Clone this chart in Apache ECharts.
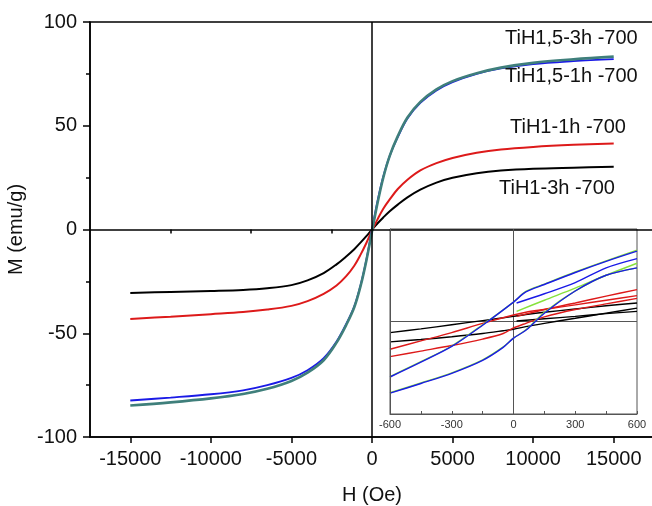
<!DOCTYPE html>
<html><head><meta charset="utf-8">
<script src="https://cdn.jsdelivr.net/npm/echarts@6/dist/echarts.min.js"></script>
<style>html,body{margin:0;padding:0;background:#fff}#c{width:652px;height:506px}</style>
</head><body><div id="c"></div>
<script>
// ---- main chart data (H in Oe, M in emu/g) ----
const H = [-15000,-12500,-10000,-8000,-6500,-5000,-4000,-3000,-2200,-1600,-1100,-700,-350,0,350,700,1100,1600,2200,3000,4000,5000,6500,8000,10000,12500,15000];
const mTiH15_3h = [-84.8,-83.3,-81.4,-79.3,-76.8,-73,-69,-63,-54.5,-46,-37.5,-27,-15,-1,13,25,35.5,45,54,61.5,67.5,71.5,75.3,78,80.3,82,83.3];
const mTiH15_1h = [-82.4,-81,-79.4,-77.5,-75,-71.5,-67.8,-62,-54,-45.5,-37,-26.5,-14.5,0,14,25.5,35.5,44.5,53.5,61,67,71,75,77.6,79.7,81.1,82.1];
const mTiH1_1h  = [-43.1,-42,-40.8,-39.8,-38.6,-36.8,-34.5,-31,-27,-22.5,-17.5,-12,-6.5,-0.5,5,10,14.5,19.5,24,28.5,32,34.5,37,38.6,39.8,40.8,41.5];
const mTiH1_3h  = [-30.6,-30.1,-29.6,-29.1,-28.3,-26.8,-24.5,-21,-16.8,-13,-9.5,-6.2,-3.2,0,3,5.8,8.8,12,15.5,19.2,22.6,24.9,27.1,28.4,29.3,29.8,30.2];
const xTicks = [-15000,-10000,-5000,0,5000,10000,15000];
const xMinorTicks = [-12500,-7500,-2500,2500,7500,12500];
const labels = ['TiH1,5-3h -700','TiH1,5-1h -700','TiH1-1h -700','TiH1-3h -700'];

// ---- inset data (H in Oe, magnetization in arbitrary inset units) ----
const insetDownH = [600,450,300,150,60,0,-150,-300,-450,-600];
const insetUpH = [-600,-450,-300,-150,-50,0,60,150,300,450,600];
const insetVirginH = [15,150,300,450,600];
const greenDown = [7.7,6.55,5.35,4.05,3.25,2.1,-0.35,-2.65,-4.35,-5.95];
const greenUp = [-7.7,-6.65,-5.55,-4.15,-2.75,-1.8,-0.9,1.0,3.3,5.0,5.8];
const greenVirgin = [1.1,2.3,3.6,5.0,6.3];
const blueDown = [7.6,6.5,5.3,4.0,3.2,2.1,-0.4,-2.7,-4.4,-6.0];
const blueUp = [-7.75,-6.7,-5.6,-4.2,-2.8,-1.8,-0.95,0.9,3.3,5.0,5.8];
const blueVirgin = [2.0,3.0,4.2,5.8,6.8];
const redDown = [2.8,2.3,1.8,1.3,1.0,0.7,-0.2,-1.2,-2.1,-3.0];
const redUp = [-3.8,-3.2,-2.6,-1.9,-1.3,-0.7,-0.2,0.5,1.3,1.9,2.5];
const redVirgin = [0.55,1.3,2.0,2.75,3.45];
const blackDown = [2.0,1.7,1.35,1.0,0.75,0.55,0.1,-0.35,-0.8,-1.2];
const blackUp = [-2.2,-1.95,-1.65,-1.3,-1.0,-0.84,-0.55,-0.2,0.35,0.9,1.45];
const blackVirgin = [0.05,0.3,0.55,0.85,1.1];

const C = {black:'#000000', red:'#dd1a1a', blue:'#1a1ae6', teal:'#3f7f7b', lime:'#86e23c'};
const FONT = '"Liberation Sans", Arial, sans-serif';
const pair = (xs, ys) => xs.map((x,i)=>[x, ys[i]]);

function mainLine(name, ys, color, w, z){
  return {name, type:'line', xAxisIndex:0, yAxisIndex:0, data:pair(H, ys), smooth:0.35,
    symbol:'none', lineStyle:{color, width:w}, z:z};
}
function insetLine(xs, ys, color){
  return {type:'line', xAxisIndex:2, yAxisIndex:1, data:pair(xs, ys), smooth:0.3, symbol:'none',
    lineStyle:{color, width:1.4}, z:5};
}

const chart = echarts.init(document.getElementById('c'), null, {renderer:'canvas'});
chart.setOption({
  animation:false,
  backgroundColor:'#fff',
  grid:[
    {left:90, right:-2, top:22, bottom:69, show:true, borderColor:'#000', borderWidth:1.5,
      outerBoundsMode:'none', containLabel:false},
    {left:390, right:15, top:229, bottom:92, show:true, borderColor:'#555', borderWidth:1, backgroundColor:'#fff', z:4,
      outerBoundsMode:'none', containLabel:false}
  ],
  xAxis:[
    {type:'value', gridIndex:0, min:-17500, max:17500,
      name:'H (Oe)', nameLocation:'middle', nameGap:48,
      nameTextStyle:{fontFamily:FONT, fontSize:20, color:'#111'},
      axisLine:{onZero:false, lineStyle:{color:'#000', width:1.5}},
      axisTick:{customValues:xTicks, length:6, lineStyle:{color:'#000', width:1.5}},
      axisLabel:{customValues:xTicks, fontFamily:FONT, fontSize:20, color:'#111', margin:12,
        formatter:v => String(v)},
      splitLine:{show:false}},
    {type:'value', gridIndex:0, min:-17500, max:17500, position:'bottom',
      axisLine:{show:false},
      axisTick:{customValues:xMinorTicks, length:4, lineStyle:{color:'#000', width:1.5}},
      axisLabel:{show:false}, splitLine:{show:false}},
    {type:'value', gridIndex:1, min:-600, max:600, interval:300,
      axisLine:{onZero:false, lineStyle:{color:'#555', width:1}},
      axisTick:{inside:true, length:3, lineStyle:{color:'#555'}},
      minorTick:{show:true, splitNumber:2, length:3, lineStyle:{color:'#555'}},
      axisLabel:{fontFamily:FONT, fontSize:11, color:'#333', margin:5},
      splitLine:{show:false}, z:6}
  ],
  yAxis:[
    {type:'value', gridIndex:0, min:-100, max:100, interval:50,
      name:'M (emu/g)', nameLocation:'middle', nameGap:58,
      nameTextStyle:{fontFamily:FONT, fontSize:20, color:'#111'},
      axisLine:{onZero:false, lineStyle:{color:'#000', width:1.5}},
      axisTick:{length:7, lineStyle:{color:'#000', width:1.5}},
      minorTick:{show:true, splitNumber:2, length:4, lineStyle:{color:'#000', width:1.5}},
      axisLabel:{fontFamily:FONT, fontSize:20, color:'#111', margin:13},
      splitLine:{show:false}},
    {type:'value', gridIndex:1, min:-10, max:10,
      axisLine:{onZero:false, lineStyle:{color:'#555', width:1}},
      axisTick:{show:false}, axisLabel:{show:false}, splitLine:{show:false}, z:6}
  ],
  series:[
    Object.assign(mainLine(labels[3], mTiH1_3h, C.black, 2, 3), {
      markLine:{symbol:'none', silent:true, label:{show:false},
        lineStyle:{color:'#000', width:1.5, type:'solid'},
        data:[{xAxis:0},{yAxis:0}]}}),
    mainLine(labels[2], mTiH1_1h, C.red, 2, 3),
    mainLine(labels[1], mTiH15_1h, C.blue, 1.8, 3),
    mainLine(labels[0], mTiH15_3h, C.teal, 2.6, 3.5),
    Object.assign(insetLine(insetDownH, blackDown, C.black), {
      markLine:{symbol:'none', silent:true, label:{show:false},
        lineStyle:{color:'#555', width:1, type:'solid'},
        data:[{xAxis:0},{yAxis:0}]}}),
    insetLine(insetUpH, blackUp, C.black),
    insetLine(insetVirginH, blackVirgin, C.black),
    insetLine(insetDownH, redDown, C.red),
    insetLine(insetUpH, redUp, C.red),
    insetLine(insetVirginH, redVirgin, C.red),
    insetLine(insetDownH, greenDown, C.lime),
    insetLine(insetUpH, greenUp, C.lime),
    insetLine(insetVirginH, greenVirgin, C.lime),
    insetLine(insetDownH, blueDown, C.blue),
    insetLine(insetUpH, blueUp, C.blue),
    insetLine(insetVirginH, blueVirgin, C.blue)
  ],
  graphic:[
    {type:'text', left:505, top:28, z:10, style:{text:labels[0], font:'20px '+FONT, fill:'#111'}},
    {type:'text', left:505, top:66, z:10, style:{text:labels[1], font:'20px '+FONT, fill:'#111'}},
    {type:'text', left:510, top:117, z:10, style:{text:labels[2], font:'20px '+FONT, fill:'#111'}},
    {type:'text', left:499, top:178, z:10, style:{text:labels[3], font:'20px '+FONT, fill:'#111'}}
  ]
});
</script></body></html>
